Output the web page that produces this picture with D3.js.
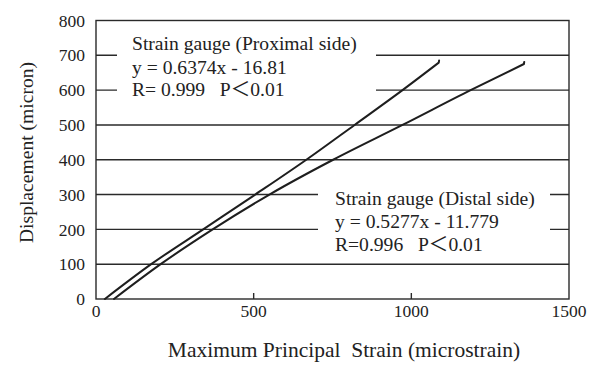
<!DOCTYPE html>
<html>
<head>
<meta charset="utf-8">
<script src="https://cdn.jsdelivr.net/npm/d3@7"></script>
<style>
  html, body { margin: 0; padding: 0; background: #fff; }
  svg { display: block; }
  text { font-family: "Liberation Serif", "Times New Roman", "Noto Sans CJK JP", serif; fill: #222; }
</style>
</head>
<body>
<svg id="chart" width="596" height="365"></svg>
<script>
// Measured strain (microstrain) vs displacement (micron) for each gauge;
// the last pair of each series is the short end flick of the trace
const proximalStrain = [28, 175, 340, 505, 667, 820, 972, 1087, 1088];
const proximalDisp   = [0, 100, 200, 300, 400, 500, 600, 679, 685];
const distalStrain   = [57, 205, 370, 550, 752, 972, 1188, 1357, 1358];
const distalDisp     = [0, 100, 200, 300, 400, 500, 600, 675, 681];

const xTicks = [0, 500, 1000, 1500];
const yTicks = [0, 100, 200, 300, 400, 500, 600, 700, 800];

const proximalLabel = ["Strain gauge (Proximal side)", "y = 0.6374x - 16.81", "R= 0.999   P\uFF1C0.01"];
const distalLabel   = ["Strain gauge (Distal side)", "y = 0.5277x - 11.779", "R=0.996   P\uFF1C0.01"];

const xTitle = "Maximum Principal  Strain (microstrain)";
const yTitle = "Displacement (micron)";

const svg = d3.select("#chart");
const ink = "#2a2a2a";

const x = d3.scaleLinear().domain([0, 1500]).range([96, 569]);
const y = d3.scaleLinear().domain([0, 800]).range([299, 20.5]);

// horizontal gridlines
svg.append("g").selectAll("line")
  .data(yTicks.filter(v => v > 0 && v < 800))
  .join("line")
  .attr("x1", x(0)).attr("x2", x(1500))
  .attr("y1", d => y(d)).attr("y2", d => y(d))
  .attr("stroke", ink).attr("stroke-width", 1.4);

// frame
svg.append("rect")
  .attr("x", x(0)).attr("y", y(800))
  .attr("width", x(1500) - x(0)).attr("height", y(0) - y(800))
  .attr("fill", "none").attr("stroke", ink).attr("stroke-width", 1.4);

// inner ticks on the x axis
svg.append("g").selectAll("line")
  .data(xTicks.filter(v => v > 0 && v < 1500))
  .join("line")
  .attr("x1", d => x(d)).attr("x2", d => x(d))
  .attr("y1", y(0)).attr("y2", y(0) - 6)
  .attr("stroke", ink).attr("stroke-width", 1.4);

// tick labels
svg.append("g").selectAll("text")
  .data(yTicks).join("text")
  .attr("x", 85).attr("y", d => y(d)).attr("dy", "0.35em")
  .attr("text-anchor", "end").attr("font-size", 17.5)
  .text(d => d);

svg.append("g").selectAll("text")
  .data(xTicks).join("text")
  .attr("x", d => x(d)).attr("y", 317)
  .attr("text-anchor", "middle").attr("font-size", 17.5)
  .text(d => d);

// axis titles
svg.append("text")
  .attr("x", 344).attr("y", 356.5)
  .attr("text-anchor", "middle").attr("font-size", 21.5)
  .style("white-space", "pre")
  .text(xTitle);

svg.append("text")
  .attr("transform", "translate(33,152.5) rotate(-90)")
  .attr("text-anchor", "middle").attr("font-size", 19.6)
  .text(yTitle);

// label blocks with white backing over the gridlines
function labelBlock(lines, bx, by, bw, bh, tx, baselines) {
  const g = svg.append("g");
  g.append("rect").attr("x", bx).attr("y", by).attr("width", bw).attr("height", bh).attr("fill", "#fff");
  g.selectAll("text").data(lines).join("text")
    .attr("x", tx).attr("y", (d, i) => baselines[i])
    .attr("font-size", 19.6)
    .style("white-space", "pre")
    .text(d => d);
}
labelBlock(proximalLabel, 117, 30, 259, 76, 132, [49.5, 74, 96]);
labelBlock(distalLabel, 318, 186, 232, 72, 335, [205, 227.5, 250.5]);

// curves: smooth body, straight end flick
const smooth = d3.line().x(d => x(d[0])).y(d => y(d[1])).curve(d3.curveMonotoneX);
const straight = d3.line().x(d => x(d[0])).y(d => y(d[1]));
[[proximalStrain, proximalDisp], [distalStrain, distalDisp]].forEach(([s, v]) => {
  const pts = s.map((d, i) => [d, v[i]]);
  const path = smooth(pts.slice(0, -1)) + straight(pts.slice(-2)).replace(/^M/, "L");
  svg.append("path")
    .attr("d", path)
    .attr("fill", "none").attr("stroke", "#1e1e1e")
    .attr("stroke-width", 2).attr("stroke-linejoin", "round").attr("stroke-linecap", "round");
});
</script>
</body>
</html>
